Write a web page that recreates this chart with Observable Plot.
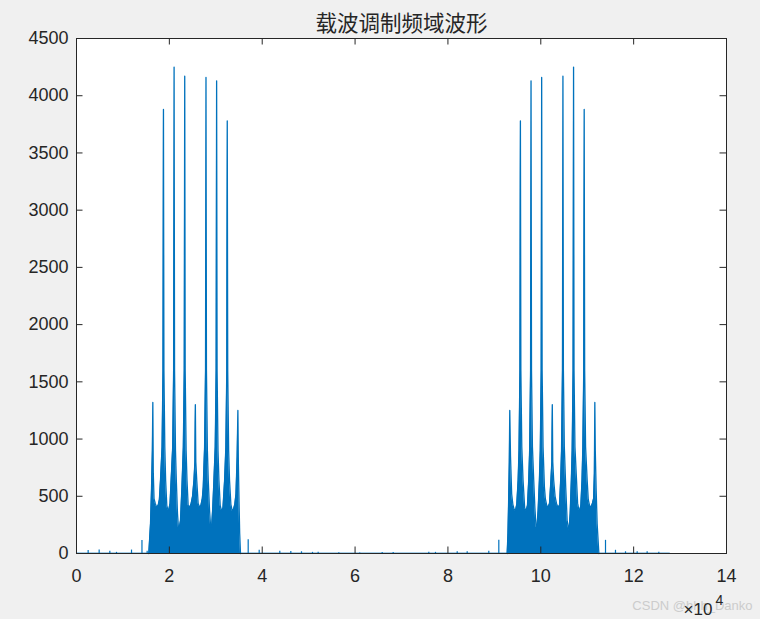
<!DOCTYPE html>
<html><head><meta charset="utf-8">
<script src="https://cdn.jsdelivr.net/npm/d3@7"></script>
<script src="https://cdn.jsdelivr.net/npm/@observablehq/plot@0.6"></script>
<style>
html,body{margin:0;padding:0;background:#f0f0f0;}
#chart{width:760px;height:619px;overflow:hidden;}
</style></head><body><div id="chart"></div>
<script>
const chartTitle = "载波调制频域波形";
const xTicks = [0, 20000, 40000, 60000, 80000, 100000, 120000, 140000];
const xTickLabels = ["0", "2", "4", "6", "8", "10", "12", "14"];
const yTicks = [0, 500, 1000, 1500, 2000, 2500, 3000, 3500, 4000, 4500];
const yTickLabels = ["0", "500", "1000", "1500", "2000", "2500", "3000", "3500", "4000", "4500"];
const xExponentBase = "×10";
const xExponent = "4";
const watermark = "CSDN @bhh_Danko";

// lower sideband envelope: [frequency index, |FFT|]
const bandLeft = [
  [15570,0],[15940,260],[16150,550],[16340,900],[16440,1320],[16540,700],[16700,480],[16950,440],
  [17250,405],[17585,420],[17850,470],[18090,640],[18430,930],[18630,1600],[18730,3880],[18830,1600],
  [19020,930],[19200,640],[19450,420],[19700,376],[19875,380],[20150,440],[20380,640],[20720,930],
  [20920,1600],[21020,4250],[21120,1600],[21320,900],[21500,640],[21750,350],[22000,200],[22165,230],
  [22400,288],[22710,580],[23010,930],[23210,1600],[23310,4170],[23410,1600],[23610,900],[23800,640],
  [24050,420],[24400,405],[24700,437],[25000,500],[25300,640],[25500,800],[25600,1300],[25700,800],
  [25900,640],[26200,437],[26500,405],[26800,420],[27100,480],[27300,580],[27590,930],[27790,1600],
  [27890,4160],[27990,1600],[28190,900],[28380,640],[28650,380],[28900,230],[29100,230],[29350,400],
  [29600,640],[29880,930],[30080,1600],[30180,4130],[30280,1600],[30480,900],[30680,640],[30950,420],
  [31250,370],[31550,400],[31900,640],[32170,930],[32370,1600],[32470,3780],[32570,1600],[32770,900],
  [32960,640],[33250,430],[33550,370],[33850,390],[34100,430],[34350,520],[34600,850],[34760,1250],
  [34860,800],[35010,450],[35150,175],[35320,0]
];

// upper (mirrored) band envelope
const bandRight = [
  [92760,0],[92930,175],[93070,450],[93220,800],[93320,1250],[93480,850],[93730,520],[93980,430],
  [94230,390],[94530,370],[94830,430],[95120,640],[95310,900],[95510,1600],[95610,3780],[95710,1600],
  [95910,930],[96180,640],[96530,400],[96830,370],[97130,420],[97400,640],[97600,900],[97800,1600],
  [97900,4130],[98000,1600],[98200,930],[98480,640],[98730,400],[98980,230],[99180,230],[99430,380],
  [99700,640],[99890,900],[100090,1600],[100190,4160],[100290,1600],[100490,930],[100780,580],[100980,480],
  [101280,420],[101580,405],[101880,437],[102180,640],[102380,800],[102480,1300],[102580,800],[102780,640],
  [103080,500],[103380,437],[103680,405],[104030,420],[104280,640],[104470,900],[104670,1600],[104770,4170],
  [104870,1600],[105070,930],[105370,580],[105680,288],[105915,230],[106080,200],[106330,350],[106580,640],
  [106760,900],[106960,1600],[107060,4250],[107160,1600],[107360,930],[107700,640],[107930,440],[108205,380],
  [108380,376],[108630,420],[108880,640],[109060,930],[109250,1600],[109350,3880],[109450,1600],[109650,930],
  [109990,640],[110230,470],[110495,420],[110830,405],[111130,440],[111380,480],[111540,700],[111640,1320],
  [111740,900],[111930,550],[112140,260],[112510,0]
];

// small isolated spectral lines outside the bands
const sideSpikes = [
  [2510,26],[4880,30],[7180,20],[8615,10],[11850,30],[14100,114],[15220,20],
  [36980,120],[39350,28],[43790,20],[46160,18],[48460,15],[50830,10],[52050,10],[56500,6],[61000,5],
  [65840,8],[68210,8],[75880,10],[77320,10],[82000,15],[84150,15],[88800,20],[90960,115],
  [113940,115],[116090,28],[118250,15],[120760,15],[122910,15],[125420,10]
];

// noise floor of the spectrum
const baseline = [[0,3],[127700,3]];

const blue = "#0072BD";
const ink = "#262626";
const sans = "'Liberation Sans', Arial, Helvetica, sans-serif";

const chart = Plot.plot({
  width: 760,
  height: 619,
  marginLeft: 76,
  marginRight: 34,
  marginTop: 38,
  marginBottom: 66,
  style: {background: "#f0f0f0", fontFamily: sans, fontSize: "18px", color: ink},
  x: {domain: [0, 140000], ticks: xTicks, tickSize: 0, tickPadding: 16,
      tickFormat: (d) => xTickLabels[xTicks.indexOf(d)], label: null},
  y: {domain: [0, 4500], ticks: yTicks, tickSize: 0, tickPadding: 8,
      tickFormat: (d) => yTickLabels[yTicks.indexOf(d)], label: null},
  marks: [
    Plot.frame({fill: "white", stroke: null}),
    Plot.line(baseline, {x: d => d[0], y: d => d[1], stroke: blue, strokeWidth: 1}),
    Plot.ruleX(sideSpikes, {x: d => d[0], y1: 0, y2: d => d[1], stroke: blue, strokeWidth: 1.2}),
    Plot.areaY(bandLeft, {x: d => d[0], y: d => d[1], fill: blue}),
    Plot.line(bandLeft, {x: d => d[0], y: d => d[1], stroke: blue, strokeWidth: 1.3}),
    Plot.areaY(bandRight, {x: d => d[0], y: d => d[1], fill: blue}),
    Plot.line(bandRight, {x: d => d[0], y: d => d[1], stroke: blue, strokeWidth: 1.3}),
    Plot.tickX(xTicks, {x: d => d, insetTop: 508.5, stroke: ink, strokeWidth: 1}),
    Plot.tickX(xTicks, {x: d => d, insetBottom: 508.5, stroke: ink, strokeWidth: 1}),
    Plot.tickY(yTicks, {y: d => d, insetRight: 643.5, stroke: ink, strokeWidth: 1}),
    Plot.tickY(yTicks, {y: d => d, insetLeft: 643.5, stroke: ink, strokeWidth: 1}),
    Plot.frame({stroke: ink, strokeWidth: 1}),
    Plot.text([chartTitle], {text: d => d, frameAnchor: "top", dy: -23, fontSize: 21.5,
      fontFamily: "'Noto Sans CJK SC', sans-serif", fill: ink}),
    Plot.text([watermark], {text: d => d, frameAnchor: "bottom-right", dx: 26, dy: 56,
      textAnchor: "end", lineAnchor: "bottom", fontSize: 13, fontFamily: sans, fill: "#cccccc"}),
    Plot.text([xExponentBase], {text: d => d, frameAnchor: "bottom-right", dx: -43, dy: 61,
      textAnchor: "start", lineAnchor: "bottom", fontSize: 17, fontFamily: sans, fill: ink}),
    Plot.text([xExponent], {text: d => d, frameAnchor: "bottom-right", dx: -11, dy: 51,
      textAnchor: "start", lineAnchor: "bottom", fontSize: 14, fontFamily: sans, fill: ink})
  ]
});
document.getElementById("chart").append(chart);
</script>
</body></html>
